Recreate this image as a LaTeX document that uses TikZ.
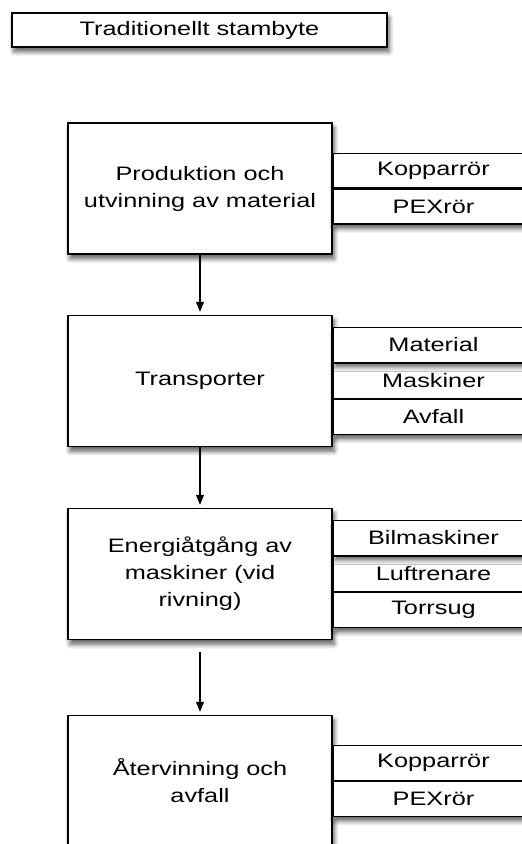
\documentclass[tikz,border=0pt]{standalone}
\usepackage{fontspec}
\setmainfont{Liberation Sans}[FakeStretch=1.3]
\usetikzlibrary{positioning,arrows.meta,shadows.blur}

\tikzset{
    boxfont/.style={font=\fontsize{14.6pt}{20.25pt}\selectfont},
    shade/.style={blur shadow={shadow xshift=1.5pt, shadow yshift=-3.5pt, shadow blur radius=3.5pt, shadow blur steps=6, shadow opacity=65}},
    stage/.style={draw, line width=1.1pt, fill=white, shade, boxfont, align=center, minimum width=198pt, minimum height=98.25pt},
    part/.style={draw, line width=1.1pt, fill=white, shade, boxfont, inner sep=0pt, minimum width=150pt, minimum height=25.9pt},
    flow/.style={-{Triangle[width=6pt,length=7.5pt]}, line width=0.8pt, shorten >=2.25pt},
}

\begin{document}
\begin{tikzpicture}[x=0.75pt,y=0.75pt,yscale=-1,xscale=1]
        \useasboundingbox (0,0) rectangle (522,844);

        \node [draw, line width=1.1pt, fill=white, shade, boxfont, minimum width=281.25pt, minimum height=25.5pt] (title) at (199.5,30) {Traditionellt stambyte};

        \node [stage] (prod) at (200,188.5) {Produktion och\\utvinning av material};
        \node [part, anchor=south west] (prodkop) at (prod.east) {Kopparrör};
        \node [part, below=0pt of prodkop] (prodpex) {PEXrör};

        \node [stage] (trans) at (200,381) {Transporter};
        \node [part, anchor=west] (transmask) at (trans.east) {Maskiner};
        \node [part, above=0pt of transmask] (transmat) {Material};
        \node [part, below=0pt of transmask] (transavf) {Avfall};

        \node [stage] (energi) at (200,574) {Energiåtgång av\\maskiner (vid\\rivning)};
        \node [part, anchor=west] (energiluft) at (energi.east) {Luftrenare};
        \node [part, above=0pt of energiluft] (energibil) {Bilmaskiner};
        \node [part, below=0pt of energiluft] (energitorr) {Torrsug};

        \node [stage] (atervin) at (200,781) {Återvinning och\\avfall};
        \node [part, anchor=south west] (atervinkop) at (atervin.east) {Kopparrör};
        \node [part, below=0pt of atervinkop] (atervinpex) {PEXrör};

        \draw [flow] (prod.south) -- (trans.north);
        \draw [flow] (trans.south) -- (energi.north);
        \draw [flow, shorten <=9pt] (energi.south) -- (atervin.north);
    \end{tikzpicture}
\end{document}
